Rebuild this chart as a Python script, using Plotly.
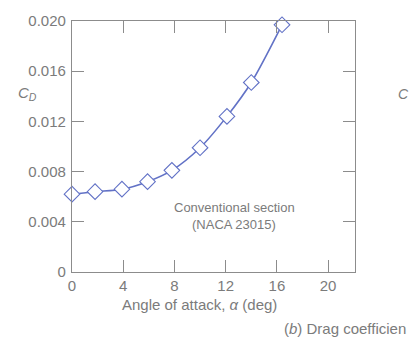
import plotly.graph_objects as go

# Data
alpha_deg = [0, 1.8, 3.9, 5.9, 7.8, 10.0, 12.1, 14.0, 16.4]
cd_values = [0.0062, 0.0064, 0.0066, 0.0072, 0.0081, 0.0099, 0.0124, 0.0151, 0.0197]
x_ticks = [0, 4, 8, 12, 16, 20]
y_ticks = [0, 0.004, 0.008, 0.012, 0.016, 0.020]
y_tick_labels = ["0", "0.004", "0.008", "0.012", "0.016", "0.020"]

W, H = 409, 343
ML, MR, MT, MB = 72, 54, 21, 71
PW, PH = W - ML - MR, H - MT - MB

def px(xp):
    return (xp - ML) / PW

def py(yp):
    return (H - MB - yp) / PH

axis_col = "#8c8c8c"
text_col = "#7b7b7b"
line_col = "#6272c6"
font_fam = "Liberation Sans, Arial, sans-serif"

fig = go.Figure()
fig.add_trace(go.Scatter(
    x=alpha_deg, y=cd_values, mode="lines+markers",
    line=dict(color=line_col, width=1.6, shape="spline", smoothing=0.8),
    marker=dict(symbol="diamond", size=12, color="white",
                line=dict(color=line_col, width=1.1)),
    cliponaxis=False, showlegend=False,
))

fig.update_xaxes(
    range=[0, 22.1], tickvals=x_ticks, ticks="inside", ticklen=12,
    tickcolor=axis_col, tickwidth=1.2, showline=True, linecolor=axis_col,
    linewidth=1.2, mirror="ticks", showgrid=False, zeroline=False,
    tickfont=dict(family=font_fam, size=15, color=text_col),
    ticklabelstandoff=0,
)
fig.update_yaxes(
    range=[0, 0.020], tickvals=y_ticks, ticktext=y_tick_labels,
    ticks="inside", ticklen=12, tickcolor=axis_col, tickwidth=1.2,
    showline=True, linecolor=axis_col, linewidth=1.2, mirror="ticks",
    showgrid=False, zeroline=False,
    tickfont=dict(family=font_fam, size=15, color=text_col),
    ticklabelstandoff=2,
)

def ann(text, x, y, size=14, xanchor="center"):
    fig.add_annotation(
        text=text, x=px(x), y=py(y), xref="paper", yref="paper",
        showarrow=False, xanchor=xanchor, yanchor="middle",
        font=dict(family=font_fam, size=size, color=text_col),
    )

ann("<i>C<sub>D</sub></i>", 27, 94, size=15)
ann("Angle of attack, <i>α</i> (deg)", 199, 305, size=15)
ann("Conventional section", 234, 207, size=13)
ann("(NACA 23015)", 234, 224, size=13)
ann("(<i>b</i>) Drag coefficien", 408, 328, size=15, xanchor="right")
ann("<i>C</i>", 396, 94, size=14, xanchor="left")

fig.update_layout(
    width=W, height=H, margin=dict(l=ML, r=MR, t=MT, b=MB),
    paper_bgcolor="white", plot_bgcolor="white",
)

fig.write_html("out.html")
